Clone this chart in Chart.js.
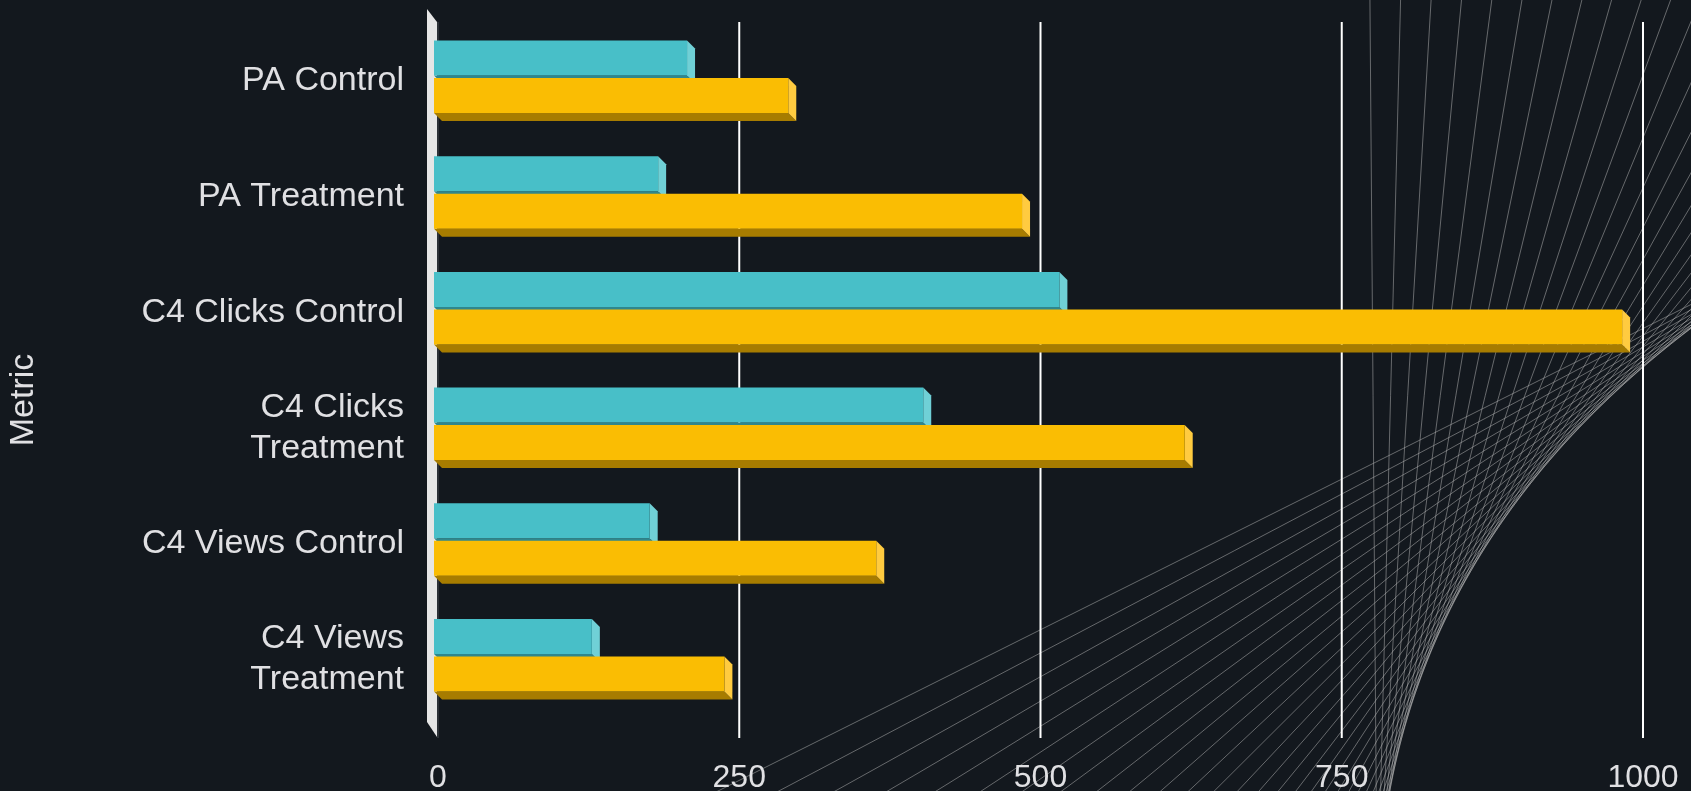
<!DOCTYPE html>
<html><head><meta charset="utf-8">
<script src="https://cdn.jsdelivr.net/npm/chart.js@4.4.1/dist/chart.umd.min.js"></script>
<style>html,body{margin:0;padding:0;background:#13181e;overflow:hidden}canvas{display:block}</style>
</head><body>
<canvas id="c" width="1691" height="791"></canvas>
<script>
// ---- data ----
const categories = ["PA Control", "PA Treatment", "C4 Clicks Control", ["C4 Clicks", "Treatment"], "C4 Views Control", ["C4 Views", "Treatment"]];
const seriesNames = ["Series 1", "Series 2"];
const series1 = [210, 186, 519, 406, 179, 131];
const series2 = [294, 488, 986, 623, 367, 241];
const xTickValues = [0, 250, 500, 750, 1000];
const axisTitle = "Metric";

// ---- style ----
const BG = '#13181e';
const TEXT = '#e0e0e3';
const FONT = '"Liberation Sans", Arial, Helvetica, sans-serif';
const DEPTH = 8;
const faceColors = [
  {front: '#48bfc8', side: '#70d0d6', bottom: '#2f878d'},
  {front: '#fabd03', side: '#ffcb40', bottom: '#a77c00'}
];

const stringArt = {
  id: 'stringArt',
  beforeDraw(chart) {
    const ctx = chart.ctx, W = chart.width, H = chart.height;
    ctx.save();
    ctx.fillStyle = BG;
    ctx.fillRect(0, 0, W, H);
    ctx.beginPath(); ctx.rect(0, 0, W, H); ctx.clip();
    const P0 = [1380, 1000], P1 = [1340, 480], P2 = [1900, 200];
    const N = 34, T0 = 0.06;
    ctx.strokeStyle = 'rgba(185,185,185,0.5)';
    ctx.lineWidth = 1;
    for (let i = 0; i <= N; i++) {
      const t = T0 + (1 - T0) * i / N, mt = 1 - t;
      const bx = mt * mt * P0[0] + 2 * mt * t * P1[0] + t * t * P2[0];
      const by = mt * mt * P0[1] + 2 * mt * t * P1[1] + t * t * P2[1];
      const dx = 2 * mt * (P1[0] - P0[0]) + 2 * t * (P2[0] - P1[0]);
      const dy = 2 * mt * (P1[1] - P0[1]) + 2 * t * (P2[1] - P1[1]);
      const L = Math.hypot(dx, dy), ux = dx / L, uy = dy / L;
      ctx.beginPath();
      ctx.moveTo(bx - ux * 3000, by - uy * 3000);
      ctx.lineTo(bx + ux * 3000, by + uy * 3000);
      ctx.stroke();
    }
    ctx.restore();
  },
  afterDraw(chart) {
    const ctx = chart.ctx;
    ctx.save();
    ctx.translate(24, 400);
    ctx.rotate(-Math.PI / 2);
    ctx.fillStyle = TEXT;
    ctx.font = '34px ' + FONT;
    ctx.textAlign = 'center';
    ctx.textBaseline = 'middle';
    ctx.fillText(axisTitle, 0, 0);
    ctx.restore();
  }
};

const bars3d = {
  id: 'bars3d',
  beforeDatasetsDraw(chart) {
    const ctx = chart.ctx, ca = chart.chartArea, xs = chart.scales.x;
    ctx.save();
    // left wall
    ctx.fillStyle = '#e6e6e6';
    ctx.beginPath();
    ctx.moveTo(ca.left - 11, ca.top - 14);
    ctx.lineTo(ca.left - 1, ca.top - 1);
    ctx.lineTo(ca.left - 1, ca.bottom + 20);
    ctx.lineTo(ca.left - 11, ca.bottom + 5);
    ctx.closePath();
    ctx.fill();
    // grid lines
    xTickValues.forEach(v => {
      const x = xs.getPixelForValue(v);
      ctx.strokeStyle = v === 0 ? '#2c3137' : '#ffffff';
      ctx.lineWidth = 2;
      ctx.beginPath();
      ctx.moveTo(x, ca.top - 1);
      ctx.lineTo(x, ca.bottom + 21);
      ctx.stroke();
    });
    // depth faces
    const h = DEPTH / 2;
    chart.data.datasets.forEach((ds, di) => {
      const meta = chart.getDatasetMeta(di);
      const c = faceColors[di];
      meta.data.forEach(el => {
        const p = el.getProps(['x', 'y', 'base', 'height'], true);
        const x0 = Math.min(p.base, p.x) - h, x1 = Math.max(p.base, p.x) - h;
        const yt = p.y - p.height / 2 - h, yb = p.y + p.height / 2 - h;
        ctx.fillStyle = c.bottom;
        ctx.beginPath();
        ctx.moveTo(x0, yb); ctx.lineTo(x1, yb);
        ctx.lineTo(x1 + DEPTH, yb + DEPTH); ctx.lineTo(x0 + DEPTH, yb + DEPTH);
        ctx.closePath(); ctx.fill();
        ctx.fillStyle = c.side;
        ctx.beginPath();
        ctx.moveTo(x1, yt); ctx.lineTo(x1 + DEPTH, yt + DEPTH);
        ctx.lineTo(x1 + DEPTH, yb + DEPTH); ctx.lineTo(x1, yb);
        ctx.closePath(); ctx.fill();
      });
    });
    ctx.restore();
    ctx.save();
    ctx.translate(-h, -h);
  },
  afterDatasetsDraw(chart) {
    chart.ctx.restore();
  }
};

new Chart(document.getElementById('c'), {
  type: 'bar',
  data: {
    labels: categories,
    datasets: [
      {label: seriesNames[0], data: series1, backgroundColor: faceColors[0].front, borderWidth: 0, clip: false,
       categoryPercentage: 0.648, barPercentage: 0.933},
      {label: seriesNames[1], data: series2, backgroundColor: faceColors[1].front, borderWidth: 0, clip: false,
       categoryPercentage: 0.648, barPercentage: 0.933}
    ]
  },
  options: {
    indexAxis: 'y',
    responsive: false,
    devicePixelRatio: 1,
    animation: false,
    layout: {padding: {top: 23, right: 48, bottom: 0, left: 0}},
    plugins: {legend: {display: false}, tooltip: {enabled: false}},
    scales: {
      x: {
        type: 'linear', position: 'bottom', min: 0, max: 1000,
        afterBuildTicks: s => { s.ticks = xTickValues.map(v => ({value: v})); },
        afterFit: s => { s.height = 74; s.paddingLeft = 0; s.paddingRight = 0; },
        grid: {display: false, drawTicks: false},
        border: {display: false},
        ticks: {color: TEXT, font: {family: FONT, size: 32, lineHeight: 1}, padding: 45, maxRotation: 0,
                callback: v => String(v)}
      },
      y: {
        type: 'category', position: 'left',
        afterFit: s => { s.width = 438; s.paddingTop = 0; s.paddingBottom = 0; },
        grid: {display: false, drawTicks: false},
        border: {display: false},
        ticks: {color: TEXT, font: {family: FONT, size: 34, lineHeight: 1.2}, padding: 34}
      }
    }
  },
  plugins: [stringArt, bars3d]
});
</script>
</body></html>
